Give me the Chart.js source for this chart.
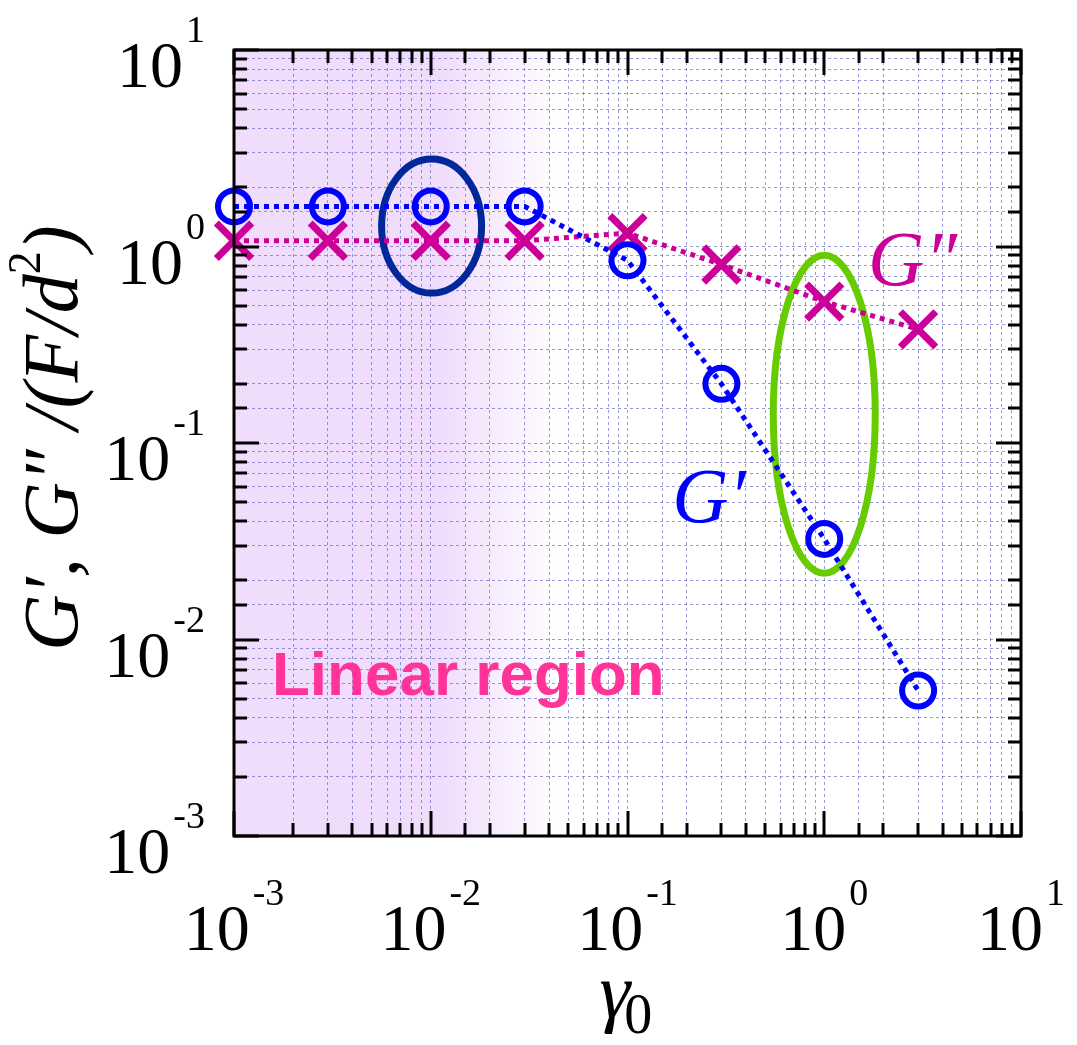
<!DOCTYPE html>
<html>
<head>
<meta charset="utf-8">
<script src="https://cdn.jsdelivr.net/npm/chart.js@4/dist/chart.umd.min.js"></script>
<style>
  html, body { margin: 0; padding: 0; background: #fff; }
  canvas { display: block; }
</style>
</head>
<body>
<canvas id="moduli-chart" width="1077" height="1045"></canvas>
<script>
// strain amplitude and moduli
var strainAmplitude = [0.001, 0.003, 0.01, 0.03, 0.1, 0.3, 1, 3];
var storageModulus = [1.6, 1.6, 1.6, 1.6, 0.85, 0.2, 0.0325, 0.0055];
var lossModulus = [1.07, 1.07, 1.07, 1.07, 1.17, 0.81, 0.524, 0.379];
var xDecades = [-3, -2, -1, 0, 1];
var yDecades = [-3, -2, -1, 0, 1];

var serif = "'Liberation Serif', 'Times New Roman', serif";

function points(ys) {
  return strainAmplitude.map(function (x, i) { return { x: x, y: ys[i] }; });
}

function drawPower(ctx, exp, x, baseline, align) {
  ctx.font = '66px ' + serif;
  var w1 = ctx.measureText('10').width;
  ctx.font = '38px ' + serif;
  var w2 = ctx.measureText(String(exp)).width;
  var total = w1 + 3 + w2;
  var left = align === 'center' ? x - total / 2 : x - total;
  ctx.textAlign = 'left';
  ctx.textBaseline = 'alphabetic';
  ctx.fillStyle = '#000';
  ctx.font = '66px ' + serif;
  ctx.fillText('10', left, baseline);
  ctx.font = '38px ' + serif;
  ctx.fillText(String(exp), left + w1 + 3, baseline - 45);
}

var backdrop = {
  id: 'backdrop',
  beforeDraw: function (chart) {
    var ctx = chart.ctx, a = chart.chartArea, xs = chart.scales.x;
    ctx.save();
    ctx.fillStyle = '#fff';
    ctx.fillRect(0, 0, chart.width, chart.height);
    var g = ctx.createLinearGradient(a.left, 0, a.right, 0);
    var w = a.right - a.left;
    g.addColorStop(0, '#f0dcfb');
    g.addColorStop((xs.getPixelForValue(0.011) - a.left) / w, '#f0dcfb');
    g.addColorStop((xs.getPixelForValue(0.046) - a.left) / w, '#ffffff');
    g.addColorStop(1, '#ffffff');
    ctx.fillStyle = g;
    ctx.fillRect(a.left, a.top, w, a.bottom - a.top);
    ctx.restore();
  },
  beforeDatasetsDraw: function (chart) {
    var ctx = chart.ctx, xs = chart.scales.x, ys = chart.scales.y;
    ctx.save();
    ctx.lineWidth = 7;
    ctx.strokeStyle = '#00289a';
    ctx.beginPath();
    ctx.ellipse(xs.getPixelForValue(0.0101), ys.getPixelForValue(1.27), 50, 67, 0, 0, Math.PI * 2);
    ctx.stroke();
    ctx.strokeStyle = '#66cc00';
    ctx.beginPath();
    ctx.ellipse(xs.getPixelForValue(1), ys.getPixelForValue(0.14), 51, 159, 0, 0, Math.PI * 2);
    ctx.stroke();
    ctx.restore();
  },
  afterDraw: function (chart) {
    var ctx = chart.ctx, a = chart.chartArea, xs = chart.scales.x, ys = chart.scales.y;
    ctx.save();

    // inward ticks on all four sides
    ctx.strokeStyle = '#000';
    ctx.lineWidth = 3;
    ctx.beginPath();
    xs.ticks.forEach(function (t) {
      var p = Math.round(xs.getPixelForValue(t.value));
      var lg = Math.log10(t.value);
      var len = Math.abs(lg - Math.round(lg)) < 1e-6 ? 25 : 13;
      ctx.moveTo(p, a.bottom); ctx.lineTo(p, a.bottom - len);
      ctx.moveTo(p, a.top); ctx.lineTo(p, a.top + len);
    });
    ys.ticks.forEach(function (t) {
      var p = Math.round(ys.getPixelForValue(t.value));
      var lg = Math.log10(t.value);
      var len = Math.abs(lg - Math.round(lg)) < 1e-6 ? 25 : 13;
      ctx.moveTo(a.left, p); ctx.lineTo(a.left + len, p);
      ctx.moveTo(a.right, p); ctx.lineTo(a.right - len, p);
    });
    ctx.stroke();
    ctx.strokeRect(a.left, a.top, a.right - a.left, a.bottom - a.top);

    xDecades.forEach(function (e) {
      drawPower(ctx, e, xs.getPixelForValue(Math.pow(10, e)), a.bottom + 114, 'center');
    });
    yDecades.forEach(function (e) {
      drawPower(ctx, e, 205, ys.getPixelForValue(Math.pow(10, e)) + 37, 'right');
    });

    // x title: gamma_0
    ctx.fillStyle = '#000';
    ctx.textAlign = 'left';
    ctx.font = 'italic 78px ' + serif;
    var gw = ctx.measureText('\u03b3').width;
    var gx = xs.getPixelForValue(0.1) - 28;
    ctx.fillText('\u03b3', gx, 1017);
    ctx.font = '56px ' + serif;
    ctx.fillText('0', gx + gw - 6, 1033);

    // y title: G', G'' /(F/d^2)
    var parts = [
      { t: 'G\u2032, G\u2033 /(F/d', f: 'italic 78px ' + serif, dy: 0 },
      { t: '2', f: '46px ' + serif, dy: -37 },
      { t: ')', f: 'italic 78px ' + serif, dy: 0 }
    ];
    var total = 0;
    parts.forEach(function (p) { ctx.font = p.f; p.w = ctx.measureText(p.t).width; total += p.w; });
    ctx.translate(77, (a.top + a.bottom) / 2 - 5);
    ctx.rotate(-Math.PI / 2);
    var cx = -total / 2;
    parts.forEach(function (p) { ctx.font = p.f; ctx.fillText(p.t, cx, p.dy); cx += p.w; });
    ctx.setTransform(1, 0, 0, 1, 0, 0);

    // curve labels and region label
    ctx.font = 'italic 78px ' + serif;
    ctx.fillStyle = '#cc0099';
    ctx.fillText('G\u2033', xs.getPixelForValue(1.67), ys.getPixelForValue(0.637));
    ctx.fillStyle = '#0000ff';
    ctx.fillText('G\u2032', xs.getPixelForValue(0.169), ys.getPixelForValue(0.0396));
    ctx.font = "bold 62px 'Liberation Sans', Arial, sans-serif";
    ctx.fillStyle = '#ff3399';
    ctx.fillText('Linear region', xs.getPixelForValue(0.00156), ys.getPixelForValue(0.00522));
    ctx.restore();
  }
};

function axis(extra) {
  var s = {
    type: 'logarithmic',
    min: 0.001,
    max: 10,
    ticks: { display: false, autoSkip: false },
    grid: { color: 'rgba(100,100,190,0.65)', lineWidth: 1, drawTicks: false },
    border: { display: false, dash: [3, 3] }
  };
  return Object.assign(s, extra);
}

new Chart(document.getElementById('moduli-chart').getContext('2d'), {
  type: 'scatter',
  data: {
    datasets: [
      {
        label: "G'",
        data: points(storageModulus),
        showLine: true,
        clip: false,
        borderColor: '#0000ff',
        borderWidth: 5,
        borderDash: [5, 5],
        pointStyle: 'circle',
        pointRadius: 16,
        pointBorderWidth: 6,
        pointBorderColor: '#0000ff',
        pointBackgroundColor: 'rgba(0,0,0,0)'
      },
      {
        label: "G''",
        data: points(lossModulus),
        showLine: true,
        clip: false,
        borderColor: '#cc0099',
        borderWidth: 5,
        borderDash: [5, 5],
        pointStyle: 'crossRot',
        pointRadius: 25,
        pointBorderWidth: 7,
        pointBorderColor: '#cc0099',
        pointBackgroundColor: 'rgba(0,0,0,0)'
      }
    ]
  },
  options: {
    responsive: false,
    animation: false,
    layout: { padding: { top: 50, right: 56, left: 0, bottom: 0 } },
    plugins: { legend: { display: false }, tooltip: { enabled: false } },
    scales: {
      x: axis({ afterFit: function (s) { s.height = 209; } }),
      y: axis({ afterFit: function (s) { s.width = 234; } })
    }
  },
  plugins: [backdrop]
});
</script>
</body>
</html>
